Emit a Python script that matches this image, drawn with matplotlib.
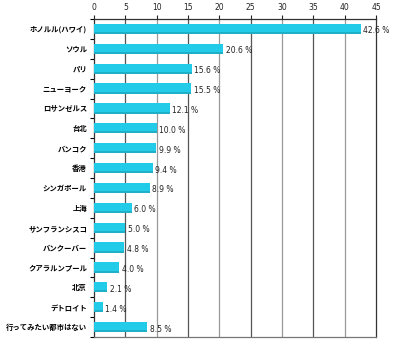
import numpy as np
import matplotlib.pyplot as plt

plt.rcParams['font.family'] = ['Noto Sans CJK JP', 'DejaVu Sans']

cities = ['ホノルル(ハワイ)', 'ソウル', 'パリ', 'ニューヨーク', 'ロサンゼルス', '台北',
          'バンコク', '香港', 'シンガポール', '上海', 'サンフランシスコ', 'バンクーバー',
          'クアラルンプール', '北京', 'デトロイト', '行ってみたい都市はない']
values = [42.6, 20.6, 15.6, 15.5, 12.1, 10.0, 9.9, 9.4, 8.9, 6.0, 5.0, 4.8, 4.0, 2.1, 1.4, 8.5]
xticks = [0, 5, 10, 15, 20, 25, 30, 35, 40, 45]

fig = plt.figure(figsize=(4.0, 3.49), dpi=100)
ax = fig.add_axes([94 / 400, 12 / 349, 282 / 400, 318 / 349])

y = np.arange(len(cities))
ax.barh(y, values, height=0.52, color='#22cce8', edgecolor='none', zorder=3)
# darker lower edge on each bar
ax.barh(y + 0.21, values, height=0.1, color='#1fb0c8', edgecolor='none', zorder=3)

for yi, v in zip(y, values):
    ax.text(v + 0.4, yi + 0.1, f'{v:.1f} %', va='center', ha='left', fontsize=5.5,
            family='DejaVu Sans', color='#222222', zorder=4)

ax.set_xlim(0, 45)
ax.set_ylim(len(cities) - 0.5, -0.5)
ax.set_xticks(xticks)
ax.xaxis.tick_top()
ax.tick_params(axis='x', labelsize=5.5, length=3, width=0.8, pad=2, top=True, bottom=False,
               labelbottom=False, colors='#222222')
ax.set_xticklabels([str(t) for t in xticks], family='DejaVu Sans')

ax.set_yticks(y)
ax.set_yticklabels(cities, fontsize=5.3, fontweight='bold')
ax.tick_params(axis='y', length=0, pad=5)
ax.set_yticks(np.arange(len(cities) + 1) - 0.5, minor=True)
ax.tick_params(axis='y', which='minor', length=3, width=0.8)

# gridlines alternate between darker and lighter grey
for t in xticks[1:-1]:
    c = '#555555' if t % 10 == 5 else '#999999'
    ax.axvline(t, color=c, linewidth=0.9, zorder=1)

for s in ax.spines.values():
    s.set_color('#333333')
    s.set_linewidth(0.9)
ax.spines['bottom'].set_color('#777777')

fig.savefig('out.png', dpi=100)
